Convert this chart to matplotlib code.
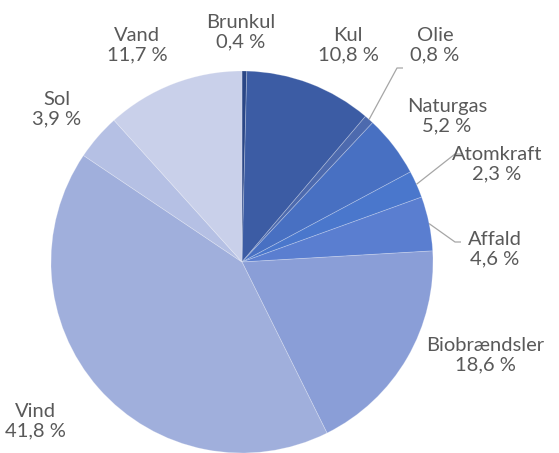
import numpy as np
import matplotlib.pyplot as plt

plt.rcParams['font.family'] = ['Lato', 'DejaVu Sans']

# data: energy sources, share in percent
kilder = ['Brunkul', 'Kul', 'Olie', 'Naturgas', 'Atomkraft', 'Affald',
          'Biobrændsler', 'Vind', 'Sol', 'Vand']
andel = [0.4, 10.8, 0.8, 5.2, 2.3, 4.6, 18.6, 41.8, 3.9, 11.7]
farver = ['#2a4686', '#3c5ca4', '#4d6aae', '#4870c2', '#4a77cc', '#5a7ed0',
          '#8a9ed7', '#a0afdc', '#b5c0e4', '#c9d0ea']

# label positions (pixels, origin top-left) and leader line elbows
label_pos = [(241, 32), (348, 45), (435, 45), (447, 116), (497, 164),
             (495, 249), (485, 355), (35, 421), (57, 109), (137, 45)]
leader = {2: (397, 68), 4: (455, 154), 5: (455, 242)}

W, H = 559, 453
fig = plt.figure(figsize=(W / 100, H / 100), dpi=100)
ax = fig.add_axes([0, 0, 1, 1])

cx, cy, r = 242, H - 262, 191
wedges, _ = ax.pie(andel, colors=farver, startangle=90, counterclock=False,
                   center=(cx, cy), radius=r, frame=True,
                   wedgeprops=dict(edgecolor=(1, 1, 1, 0.25), linewidth=0.6))
ax.set_xlim(0, W)
ax.set_ylim(0, H)
ax.set_aspect('equal')
ax.axis('off')

for i, w in enumerate(wedges):
    lx, ly = label_pos[i]
    txt = f"{kilder[i]}\n{andel[i]:.1f} %".replace('.', ',')
    ax.text(lx, H - ly, txt, ha='center', va='center', fontsize=14.5,
            color='#595959', linespacing=1.2)
    if i in leader:
        ang = np.deg2rad((w.theta1 + w.theta2) / 2)
        px, py = cx + r * np.cos(ang), cy + r * np.sin(ang)
        ex, ey = leader[i]
        ax.plot([px, ex, ex + 6], [py, H - ey, H - ey], color='#a6a6a6',
                lw=0.9, solid_capstyle='butt')

fig.savefig('out.png', dpi=100)
